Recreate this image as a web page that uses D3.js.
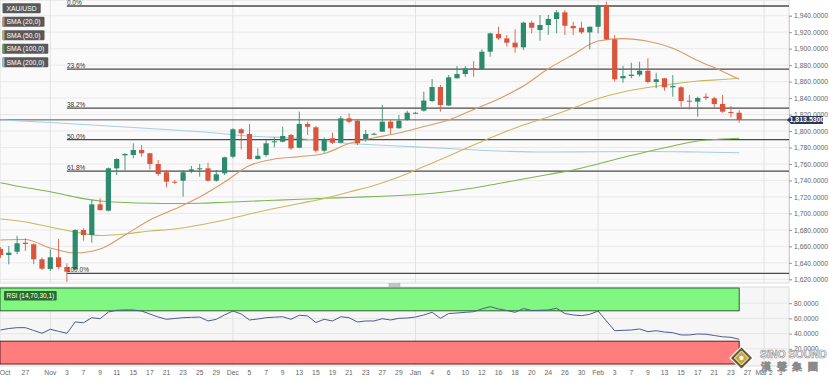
<!DOCTYPE html>
<html><head><meta charset="utf-8">
<script src="https://cdn.jsdelivr.net/npm/d3@7"></script>
<style>
html,body{margin:0;padding:0;background:#fff;}
svg{display:block;}
text{font-family:"Liberation Sans Narrow","Liberation Sans",Arial,sans-serif;}
</style></head><body>
<svg id="chart" width="829" height="380"></svg>
<script>
// ---------- DATA ----------
const symbol = "XAU/USD";
const opens = [1656.8,1649.5,1653.5,1664.4,1662.5,1644.3,1632.5,1646.7,1634.9,1632.1,
 1679.8,1673.8,1711.0,1703.3,1754.7,1770.5,1770.9,1777.0,1773.0,1760.0,
 1749.9,1738.5,1739.7,1751.5,1753.9,1754.7,1739.7,1748.7,1768.8,1802.1,
 1796.4,1766.0,1770.9,1786.3,1787.0,1795.2,1779.7,1808.5,1804.5,1776.1,
 1791.2,1785.8,1815.4,1812.5,1790.3,1796.0,1799.2,1811.3,1803.3,1813.4,
 1821.5,1824.7,1836.4,1853.4,1831.0,1864.0,1869.2,1876.1,1874.9,1896.3,
 1917.8,1912.5,1907.2,1901.6,1931.5,1922.6,1928.7,1936.0,1944.1,1927.5,
 1925.4,1919.8,1926.6,1951.8,1911.3,1864.0,1866.8,1868.4,1873.2,1859.5,
 1864.0,1853.1,1853.1,1836.8,1835.6,1841.7,1839.7,1832.8,1823.1,1822.2];
const highs = [1659.2,1660.4,1672.9,1669.8,1663.7,1646.7,1656.4,1668.9,1639.4,1680.7,
 1681.9,1716.3,1718.3,1755.7,1766.9,1773.0,1785.1,1783.0,1773.5,1764.8,
 1752.7,1740.5,1752.7,1757.5,1760.0,1761.5,1752.7,1768.8,1803.3,1803.3,
 1808.5,1779.0,1789.1,1792.4,1805.2,1796.4,1823.5,1811.3,1806.1,1792.4,
 1798.0,1818.2,1821.5,1814.2,1801.2,1798.0,1831.6,1813.4,1819.4,1824.7,
 1823.0,1847.7,1863.1,1855.9,1868.0,1878.9,1878.9,1885.0,1899.2,1919.4,
 1926.6,1916.6,1923.5,1932.7,1933.9,1940.8,1940.8,1946.9,1946.9,1932.7,
 1932.7,1926.8,1953.0,1957.0,1916.6,1878.9,1882.9,1884.1,1888.3,1870.8,
 1864.3,1868.0,1854.6,1843.7,1841.7,1845.8,1841.7,1843.7,1830.4,1825.5];
const lows = [1645.9,1638.2,1650.3,1654.4,1638.2,1631.3,1630.1,1632.5,1616.7,1631.3,
 1666.9,1664.4,1703.3,1702.3,1746.6,1751.8,1766.9,1768.8,1753.5,1745.4,
 1731.7,1735.7,1720.3,1748.7,1744.5,1738.5,1738.5,1746.6,1766.9,1777.8,
 1765.5,1765.5,1768.8,1780.2,1786.5,1777.0,1779.0,1795.2,1773.7,1773.7,
 1784.2,1785.1,1809.4,1783.0,1787.0,1795.0,1799.0,1796.4,1803.0,1812.5,
 1821.0,1823.5,1835.2,1823.5,1830.4,1864.0,1865.9,1865.9,1874.1,1890.2,
 1910.5,1902.4,1895.1,1898.3,1918.6,1909.6,1916.6,1918.6,1916.6,1916.6,
 1917.8,1899.2,1918.6,1910.5,1859.9,1858.7,1864.0,1865.9,1857.9,1851.9,
 1848.9,1841.7,1829.5,1826.4,1817.4,1837.6,1828.8,1822.2,1816.7,1810.1];
const closes = [1649.5,1652.3,1663.7,1662.9,1644.3,1632.9,1646.7,1634.9,1629.2,1679.8,
 1673.8,1711.0,1704.1,1754.7,1766.0,1772.1,1777.0,1773.0,1760.0,1747.8,
 1738.5,1737.3,1749.9,1753.5,1754.7,1739.7,1747.5,1768.1,1802.1,1797.2,
 1766.0,1770.0,1785.1,1787.5,1794.0,1779.0,1808.5,1805.2,1776.1,1789.9,
 1785.8,1815.4,1811.3,1785.1,1796.4,1796.7,1811.3,1803.3,1812.5,1822.2,
 1822.2,1837.0,1853.4,1831.6,1865.2,1869.2,1876.1,1874.9,1896.3,1918.6,
 1912.5,1907.2,1901.6,1931.5,1925.4,1928.7,1936.0,1944.1,1927.8,1924.7,
 1919.8,1926.6,1951.8,1911.3,1862.8,1866.8,1868.4,1873.2,1859.5,1862.8,
 1853.1,1854.6,1836.4,1836.1,1840.1,1840.1,1832.8,1823.5,1821.9,1813.53];

const smaIndex = [0,3,6,9,12,15,18,21,24,27,30,33,36,39,42,45,48,51,54,57,60,63,66,69,72,75,78,81,84,87,89];
const sma20 = [1667.7,1668.3,1658.0,1651.9,1656.8,1673.8,1692.0,1705.3,1719.9,1738.1,1758.1,1766.0,1768.8,1772.7,1784.8,1791.8,1797.6,1805.5,1813.4,1826.1,1838.9,1854.6,1875.6,1892.8,1909.3,1912.2,1909.0,1900.5,1885.6,1872.4,1862.8];
const sma50 = [1693.2,1689.6,1683.5,1677.4,1673.2,1675.0,1678.6,1681.1,1685.9,1692.0,1699.3,1705.9,1712.0,1718.1,1726.0,1733.9,1744.2,1756.9,1769.7,1783.0,1795.8,1807.3,1817.0,1827.9,1839.5,1847.4,1852.8,1857.1,1860.7,1862.5,1864.0];
const sma100 = [1737.3,1731.4,1726.3,1719.9,1715.0,1713.2,1712.3,1712.0,1712.3,1713.5,1714.7,1715.9,1717.1,1718.3,1719.3,1720.5,1721.7,1723.5,1726.6,1730.8,1736.3,1741.8,1747.2,1752.7,1760.0,1767.9,1775.1,1781.8,1787.9,1790.3,1791.2];
const sma200Index = [0,6,12,18,24,30,36,42,48,54,60,66,72,78,84,89];
const sma200 = [1813.4,1810.3,1806.7,1803.1,1799.2,1794.0,1790.9,1784.8,1781.8,1778.8,1775.7,1774.5,1774.9,1775.1,1774.5,1773.7];

const rsi = [44.7,46.7,47.8,47.8,44.1,40.4,45.7,43.0,40.4,55.3,
 54.3,60.9,59.6,68.4,70.7,71.1,71.1,69.7,65.8,61.8,
 58.8,59.9,60.9,61.4,61.8,56.6,58.8,64.5,69.7,65.8,
 57.9,59.2,60.9,61.6,62.2,58.8,64.1,63.2,54.6,58.8,
 56.6,62.2,60.9,55.3,56.6,56.6,59.6,57.9,60.1,60.5,
 61.8,64.5,68.0,60.1,66.4,67.1,68.0,68.8,72.4,75.4,
 72.4,70.4,68.0,73.0,70.4,70.7,71.1,73.3,66.4,64.5,
 63.6,65.4,69.7,56.6,43.8,44.3,44.7,46.1,42.5,43.8,
 42.1,41.2,38.2,38.2,39.5,39.2,37.5,35.8,35.1,32.5];

const xTickIndex = [0,3,6,8,10,12,14,16,18,20,22,24,26,28,30,32,34,36,38,40,42,44,46,48,50,52,54,56,58,60,62,64,66,68,70,72,74,76,78,80,82,84,86,88,90,92,94];
const xTickLabels = ["Oct","27","Nov","3","7","9","11","15","17","21","23","25","29","Dec","5","7","9","13","15","19","21","23","27","29","Jan","4","6","10","12","16","18","20","24","26","30","Feb","3","7","9","13","15","17","21","23","27","Mar 2","3"];
const monthIndex = [6,28,50,72,92];

const yTicks = [1620,1640,1660,1680,1700,1720,1740,1760,1780,1800,1820,1840,1860,1880,1900,1920,1940];
const rsiTicks = [20,40,60,80];
const rsiBands = [30,70];

const fibLevels = [0,23.6,38.2,50,61.8,100];
const fibHigh = 1951.8, fibLow = 1627.3, fibStartIndex = 8;

const legendLabels = ["XAU/USD","SMA (20,0)","SMA (50,0)","SMA (100,0)","SMA (200,0)"];
const rsiLabel = "RSI (14,70,30,1)";
const watermarkLatin = "SiNO SOUND";
const watermarkCJK = "漢聲集團";

// ---------- LAYOUT ----------
const svg = d3.select("#chart");
const plotR = 789, mainBot = 283, rsiTop = 287, rsiBot = 366;
const x = d3.scaleLinear().domain([0,89]).range([0.5,739.2]);
const y = d3.scaleLinear().domain([1620,1940]).range([279.3,15.7]);
const yr = d3.scaleLinear().domain([0,100]).range([364,288]);
const UP = "#2e8a6c", DOWN = "#d9553d";
const smaColors = {s20:"#d99a66", s50:"#c9b860", s100:"#7fb552", s200:"#a8cde2"};

svg.append("rect").attr("width",829).attr("height",380).attr("fill","#fff");

const defs = svg.append("defs");
defs.append("clipPath").attr("id","cm").append("rect").attr("x",0).attr("y",0).attr("width",plotR).attr("height",mainBot);
defs.append("clipPath").attr("id","cr").append("rect").attr("x",0).attr("y",rsiTop).attr("width",plotR).attr("height",rsiBot-rsiTop);

// backgrounds
svg.append("rect").attr("x",0).attr("y",0).attr("width",plotR).attr("height",mainBot).attr("fill","#fafafa").attr("stroke","#dcdcdc");
svg.append("rect").attr("x",0).attr("y",rsiTop).attr("width",plotR).attr("height",rsiBot-rsiTop).attr("fill","#f6f6f6").attr("stroke","#dcdcdc");

const gm = svg.append("g").attr("clip-path","url(#cm)");
// grid
gm.selectAll(".hg").data(yTicks).join("line").attr("x1",0).attr("x2",plotR)
  .attr("y1",d=>y(d)).attr("y2",d=>y(d)).attr("stroke","#e9e9e9");
gm.selectAll(".vg").data(monthIndex).join("line").attr("y1",0).attr("y2",mainBot)
  .attr("x1",d=>x(d)).attr("x2",d=>x(d)).attr("stroke","#e2e2e2");

// fib lines
const fibVal = l => fibHigh - (fibHigh-fibLow)*l/100;
gm.selectAll(".fl").data(fibLevels).join("line")
  .attr("x1",x(fibStartIndex)).attr("x2",plotR)
  .attr("y1",d=>y(fibVal(d))).attr("y2",d=>y(fibVal(d)))
  .attr("stroke","#4a4a4a").attr("stroke-width",1.3);

// price line
const last = closes[closes.length-1];
gm.append("line").attr("x1",0).attr("x2",plotR).attr("y1",y(last)).attr("y2",y(last))
  .attr("stroke","#444").attr("stroke-width",0.9);

// SMA lines
const line = d3.line().x(d=>x(d[0])).y(d=>y(d[1])).curve(d3.curveMonotoneX);
const pairs = (idx,vals)=>idx.map((k,i)=>[k,vals[i]]);
[[sma200Index,sma200,smaColors.s200],[smaIndex,sma100,smaColors.s100],[smaIndex,sma50,smaColors.s50],[smaIndex,sma20,smaColors.s20]]
 .forEach(([idx,vals,c])=>{
   gm.append("path").attr("d",line(pairs(idx,vals))).attr("fill","none").attr("stroke",c).attr("stroke-width",1.1);
 });

// candles
const idxs = d3.range(opens.length);
gm.selectAll(".wick").data(idxs).join("line")
  .attr("x1",i=>x(i)).attr("x2",i=>x(i))
  .attr("y1",i=>y(highs[i])).attr("y2",i=>y(lows[i]))
  .attr("stroke",i=>closes[i]>=opens[i]?UP:DOWN).attr("stroke-width",1).attr("opacity",0.85);
gm.selectAll(".body").data(idxs).join("rect")
  .attr("x",i=>x(i)-2.6).attr("width",5.2)
  .attr("y",i=>y(Math.max(opens[i],closes[i])))
  .attr("height",i=>Math.max(1,Math.abs(y(opens[i])-y(closes[i]))))
  .attr("fill",i=>closes[i]>=opens[i]?UP:DOWN);

// fib labels
svg.selectAll(".ft").data(fibLevels).join("text")
  .attr("x",x(fibStartIndex)).attr("y",d=>y(fibVal(d))-0.8)
  .attr("font-size",6.5).attr("fill","#333")
  .text(d=>d.toFixed(1)+"%");

// y axis
const yAxis = d3.axisRight(y).tickValues(yTicks).tickFormat(d3.format(",.4f")).tickSize(3).tickPadding(2);
const ga = svg.append("g").attr("transform",`translate(${plotR},0)`).call(yAxis);
ga.select(".domain").attr("stroke","#d0d0d0");
ga.selectAll("line").attr("stroke","#999");
ga.selectAll("text").attr("font-size",6.8).attr("fill","#666").attr("font-family",null);

// price label
const py = y(last);
svg.append("path").attr("d",`M${plotR-2},${py} L${plotR+2},${py-4} L${plotR+34},${py-4} L${plotR+34},${py+4} L${plotR+2},${py+4} Z`)
  .attr("fill","#1f3b60");
svg.append("text").attr("x",plotR+18).attr("y",py+2.5).attr("text-anchor","middle")
  .attr("font-size",7).attr("font-weight","bold").attr("fill","#fff").text(d3.format(",.4f")(last));

// legend (boxes sized to their text)
const lg = svg.append("g");
const legC = [null,"#c98a5e","#bfae5e","#63a043","#91c0da"];
legendLabels.forEach((t,i)=>{
  const yy = 3.3 + i*13.5;
  const box = lg.append("rect").attr("x",2.5).attr("y",yy).attr("height",10).attr("fill","#595959").attr("rx",1);
  if(legC[i]) lg.append("rect").attr("x",2.5).attr("y",yy).attr("width",2).attr("height",10).attr("fill",legC[i]);
  const tx = lg.append("text").attr("x",6.5).attr("y",yy+7.4).attr("font-size",6.8).attr("fill","#fff").text(t);
  box.attr("width", tx.node().getComputedTextLength()+8);
});

// scroll handle
svg.append("rect").attr("x",389).attr("y",283.5).attr("width",11).attr("height",3).attr("fill","#c4c4c4").attr("stroke","#aaa").attr("stroke-width",0.5);

// ---------- RSI ----------
const gr = svg.append("g").attr("clip-path","url(#cr)");
gr.selectAll(".rh").data(rsiTicks).join("line").attr("x1",0).attr("x2",plotR)
  .attr("y1",d=>yr(d)).attr("y2",d=>yr(d)).attr("stroke","#e6e6e6");
gr.selectAll(".rv").data(monthIndex).join("line").attr("y1",rsiTop).attr("y2",rsiBot)
  .attr("x1",d=>x(d)).attr("x2",d=>x(d)).attr("stroke","#e2e2e2");
gr.append("rect").attr("x",0).attr("y",yr(100)).attr("width",x(89)).attr("height",yr(rsiBands[1])-yr(100))
  .attr("fill","#80f780").attr("stroke","#2f5f2f").attr("stroke-width",1);
gr.append("rect").attr("x",0).attr("y",yr(rsiBands[0])).attr("width",x(89)).attr("height",yr(0)-yr(rsiBands[0]))
  .attr("fill","#ff7d7d").attr("stroke","#5a2222").attr("stroke-width",1);
gr.append("path").attr("d",d3.line().x((d,i)=>x(i)).y(d=>yr(d))(rsi))
  .attr("fill","none").attr("stroke","#4d5b8f").attr("stroke-width",1);

const rbox = svg.append("rect").attr("x",4).attr("y",291).attr("height",9.5).attr("fill","#2e6a2e").attr("rx",1);
const rtx = svg.append("text").attr("x",6.5).attr("y",298.3).attr("font-size",6.5).attr("fill","#fff").text(rsiLabel);
rbox.attr("width", rtx.node().getComputedTextLength()+5);

const rAxis = d3.axisRight(yr).tickValues(rsiTicks).tickFormat(d3.format(".4f")).tickSize(3).tickPadding(2);
const gra = svg.append("g").attr("transform",`translate(${plotR},0)`).call(rAxis);
gra.select(".domain").remove();
gra.selectAll("line").attr("stroke","#999");
gra.selectAll("text").attr("font-size",6.8).attr("fill","#666").attr("font-family",null);

// x axis labels
svg.selectAll(".xl").data(xTickIndex).join("text")
  .attr("x",(d)=>Math.max(x(d),5)).attr("y",374.5).attr("text-anchor","middle")
  .attr("font-size",6.8).attr("fill","#666")
  .text((d,i)=>xTickLabels[i]);

// ---------- watermark ----------
const wm = svg.append("g");
const cx=741.5, cy=358, r=11.5;
wm.append("path").attr("d",`M${cx},${cy-r} L${cx+r},${cy} L${cx},${cy+r} L${cx-r},${cy} Z`).attr("fill","#6b5a2a").attr("stroke","#fff").attr("stroke-width",1.2);
wm.append("path").attr("d",`M${cx},${cy-7} L${cx+7},${cy} L${cx},${cy+7} L${cx-7},${cy} Z`).attr("fill","#c9a53a").attr("stroke","#fff").attr("stroke-width",1);
wm.append("circle").attr("cx",cx).attr("cy",cy).attr("r",2.2).attr("fill","#fff");
const wt1 = wm.append("text").attr("x",760).attr("y",357.5).attr("font-size",10.5).attr("font-weight","bold")
  .attr("font-family","'Liberation Sans',Arial,sans-serif")
  .attr("fill","#fff").attr("stroke","#8a8a8a").attr("stroke-width",0.6).text(watermarkLatin);
wm.append("text").attr("x",761).attr("y",369.5).attr("font-size",9.5).attr("font-weight","bold")
  .attr("font-family","'Noto Sans CJK TC',sans-serif").attr("letter-spacing",5.5)
  .attr("fill","#fff").attr("stroke","#8a8a8a").attr("stroke-width",0.5).text(watermarkCJK);
</script>
</body></html>
